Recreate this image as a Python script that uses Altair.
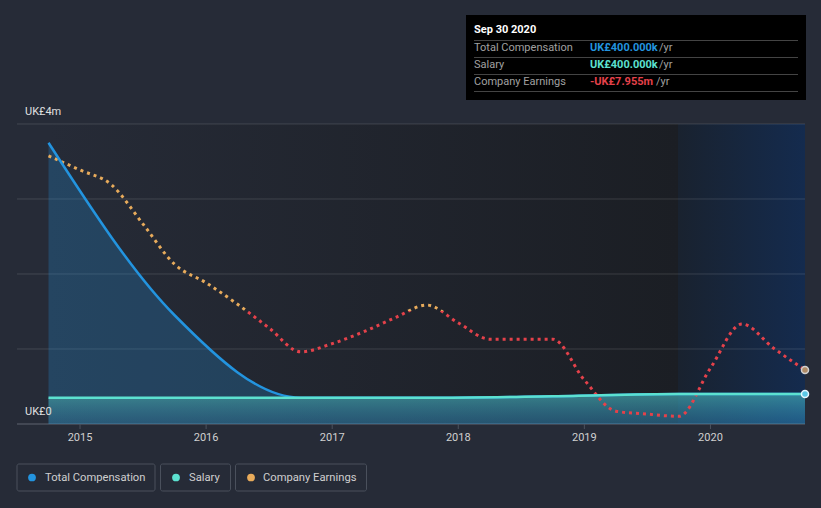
import altair as alt
import pandas as pd

# ---------------- data ----------------
comp_years = [2014.75, 2015.75, 2016.75, 2017.75, 2018.75, 2019.75, 2020.75]
total_comp = [3.75, 1.45, 0.35, 0.35, 0.37, 0.40, 0.40]      # UK£m
salary = [0.35, 0.35, 0.35, 0.35, 0.37, 0.40, 0.40]          # UK£m

earn_years = [2014.75, 2015.0, 2015.25, 2015.5, 2015.75, 2016.0, 2016.25, 2016.5,
              2016.75, 2017.0, 2017.25, 2017.5, 2017.75, 2018.0, 2018.25, 2018.5,
              2018.75, 2019.0, 2019.25, 2019.5, 2019.75, 2020.0, 2020.25, 2020.5,
              2020.75]
earnings = [20.9, 19.0, 17.0, 11.7, 6.3, 3.8, 0.9, -2.3,
            -5.5, -4.4, -2.8, -0.9, 0.8, -1.6, -3.8, -3.8,
            -3.8, -9.3, -13.5, -13.9, -14.2, -7.7, -1.75, -5.0,
            -7.955]                                            # UK£m

grid_values = [0, 1, 2, 3, 4]
tick_years = [2015, 2016, 2017, 2018, 2019, 2020]

comp_df = pd.DataFrame({"year": comp_years, "total": total_comp, "salary": salary})
earn_df = pd.DataFrame({"year": earn_years, "earn": earnings})
grid_df = pd.DataFrame({"v": grid_values})
tick_df = pd.DataFrame({"year": tick_years})
one = pd.DataFrame({"a": [0]})

BG = "#262b37"
FONT = "Roboto"
BLUE = "#2394df"
TEAL = "#5ce1d0"
ORANGE = "#e8ab5b"
RED = "#e5414a"

# earnings use their own hidden scale, mapped into the 0-4 (UK£m) band
E_LO, E_HI = -15.23, 25.2
earn_expr = f"(datum.earn - ({E_LO})) * 4 / ({E_HI} - ({E_LO}))"

# scales span the whole 821x508 canvas; plot band is x 48.5..805, y 424..124
xs = alt.Scale(domain=[2014.3653, 2020.8769], zero=False, nice=False)
ys = alt.Scale(domain=[-1.12, 5.6533], zero=False, nice=False)
X = alt.X("year:Q", scale=xs, axis=None)


def txt(s, x, y, color, size=11, weight="normal", align="left"):
    return alt.Chart(one).mark_text(
        text=s, align=align, baseline="middle", font=FONT, fontSize=size,
        fontWeight=weight, color=color
    ).encode(x=alt.value(x), y=alt.value(y))


def box(x1, x2, y1, y2, **kw):
    return alt.Chart(one).mark_rect(**kw).encode(
        x=alt.value(x1), x2=alt.value(x2), y=alt.value(y1), y2=alt.value(y2))


# ---------------- backgrounds ----------------
dark_bg = box(48.5, 678, 124, 424, color=alt.Gradient(
    gradient="linear", x1=0, x2=1, y1=0, y2=0,
    stops=[alt.GradientStop(color=BG, offset=0),
           alt.GradientStop(color="#1b1e24", offset=1)]))
blue_bg = box(678, 805, 124, 424, color=alt.Gradient(
    gradient="linear", x1=0, x2=1, y1=0, y2=0,
    stops=[alt.GradientStop(color="#19222f", offset=0),
           alt.GradientStop(color="#142b4e", offset=1)]))

grid = alt.Chart(grid_df).transform_filter("datum.v > 0").mark_rule(
    color="#ffffff", opacity=0.13, strokeWidth=1
).encode(y=alt.Y("v:Q", scale=ys, axis=None), x=alt.value(17), x2=alt.value(805))

base_line = alt.Chart(grid_df).transform_filter("datum.v == 0").mark_rule(
    color="#4c525e", strokeWidth=1.5
).encode(y=alt.Y("v:Q", scale=ys, axis=None), x=alt.value(17), x2=alt.value(805))

# x ticks and year labels through the x scale
ticks = alt.Chart(tick_df).mark_rule(color="#4c525e", strokeWidth=1).encode(
    x=alt.X("year:Q", scale=xs, axis=None), y=alt.value(424), y2=alt.value(429))
tick_labels = alt.Chart(tick_df).mark_text(
    font=FONT, fontSize=11, color="#d0d0d0", baseline="middle", align="center"
).encode(x=alt.X("year:Q", scale=xs, axis=None), y=alt.value(437.5),
         text=alt.Text("year:Q", format="d"))

# ---------------- series ----------------
comp_area = alt.Chart(comp_df).transform_calculate(base="0").mark_area(
    interpolate="monotone", color=BLUE, opacity=0.25
).encode(x=X, y=alt.Y("total:Q", scale=ys, axis=None), y2="base:Q")

sal_area = alt.Chart(comp_df).transform_calculate(base="0").mark_area(
    interpolate="monotone",
    color=alt.Gradient(gradient="linear", x1=0, x2=0, y1=0, y2=1,
                       stops=[alt.GradientStop(color="rgba(92,225,208,0.42)", offset=0),
                              alt.GradientStop(color="rgba(60,160,200,0.22)", offset=1)])
).encode(x=X, y=alt.Y("salary:Q", scale=ys, axis=None), y2="base:Q")

comp_line = alt.Chart(comp_df).mark_line(
    interpolate="monotone", color=BLUE, strokeWidth=2.5
).encode(x=X, y=alt.Y("total:Q", scale=ys, axis=None))

sal_line = alt.Chart(comp_df).mark_line(
    interpolate="monotone", color=TEAL, strokeWidth=2.5
).encode(x=X, y=alt.Y("salary:Q", scale=ys, axis=None))

emax, emin = max(earnings), min(earnings)
zero_off = emax / (emax - emin)
earn_line = alt.Chart(earn_df).transform_calculate(ey=earn_expr).mark_line(
    interpolate="monotone", strokeWidth=3, strokeDash=[3, 4],
    color=alt.Gradient(gradient="linear", x1=0, x2=0, y1=0, y2=1,
                       stops=[alt.GradientStop(color=ORANGE, offset=0),
                              alt.GradientStop(color=ORANGE, offset=zero_off),
                              alt.GradientStop(color=RED, offset=zero_off),
                              alt.GradientStop(color=RED, offset=1)])
).encode(x=X, y=alt.Y("ey:Q", scale=ys, axis=None))

sal_end = alt.Chart(comp_df.tail(1)).mark_point(
    filled=True, size=50, fill="#5cc8e6", stroke="#e6f6ff", strokeWidth=1.5, opacity=1
).encode(x=X, y=alt.Y("salary:Q", scale=ys, axis=None))

earn_end = alt.Chart(earn_df.tail(1)).transform_calculate(ey=earn_expr).mark_point(
    filled=True, size=50, fill="#b08b66", stroke="#d0d0d0", strokeWidth=1.5, opacity=1
).encode(x=X, y=alt.Y("ey:Q", scale=ys, axis=None))

# ---------------- labels ----------------
ylab = [txt("UK£4m", 25, 112, "#e0e0e0", 11), txt("UK£0", 25, 412, "#e0e0e0", 11)]

tip = box(466, 806, 15, 100, color="#000000")
tip_rules = [alt.Chart(one).mark_rule(color="#444444", strokeWidth=1).encode(
    y=alt.value(yy), x=alt.value(474), x2=alt.value(798)) for yy in [40.5, 57.5, 74.5, 91.5]]
tip_text = [
    txt("Sep 30 2020", 474, 30, "#ffffff", 11, "bold"),
    txt("Total Compensation", 474, 48, "#a0a0a0", 11),
    txt("UK£400.000k", 590, 48, BLUE, 11, "bold"),
    txt("/yr", 659, 48, "#a0a0a0", 11),
    txt("Salary", 474, 65, "#a0a0a0", 11),
    txt("UK£400.000k", 590, 65, TEAL, 11, "bold"),
    txt("/yr", 659, 65, "#a0a0a0", 11),
    txt("Company Earnings", 474, 82, "#a0a0a0", 11),
    txt("-UK£7.955m", 590, 82, RED, 11, "bold"),
    txt("/yr", 656, 82, "#a0a0a0", 11),
]

leg = []
for (x1, x2, dx, tx, label, col) in [
    (17, 155, 32, 45, "Total Compensation", BLUE),
    (160.5, 230.5, 176, 189, "Salary", TEAL),
    (235.5, 366.5, 251, 263, "Company Earnings", ORANGE),
]:
    leg.append(box(x1, x2, 464, 491, fillOpacity=0, stroke="#4a505c", strokeWidth=1,
                   cornerRadius=2))
    leg.append(alt.Chart(one).mark_point(filled=True, size=60, color=col, opacity=1)
               .encode(x=alt.value(dx), y=alt.value(477.5)))
    leg.append(txt(label, tx, 477.5, "#cfcfcf", 11.2))

layers = ([dark_bg, blue_bg, grid, base_line, ticks, tick_labels, comp_area, sal_area,
           earn_line, comp_line, sal_line, sal_end, earn_end]
          + ylab + [tip] + tip_rules + tip_text + leg)

chart = alt.layer(*layers).properties(
    width=821, height=508,
    autosize=alt.AutoSizeParams(type="none"),
    padding=0,
).configure(background=BG).configure_view(strokeWidth=0)

chart.save("out.html", embed_options={"renderer": "svg", "actions": False})
